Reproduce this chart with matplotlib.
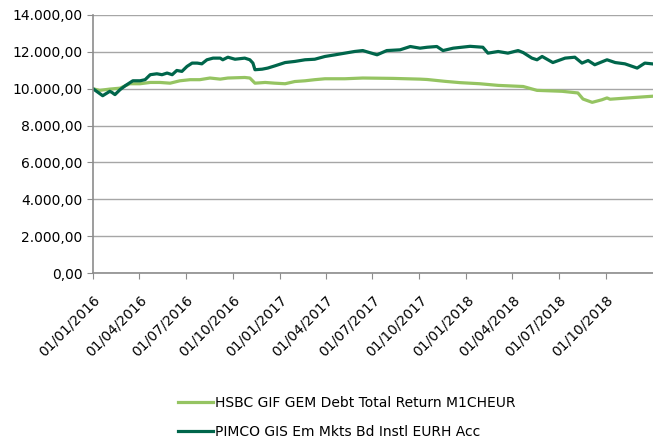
import pandas as pd
import matplotlib
matplotlib.use("Agg")
import matplotlib.pyplot as plt
import matplotlib.dates as mdates
from matplotlib.ticker import FuncFormatter, MultipleLocator

# values (growth of 10.000)
hsbc_dates = ['2016-01-01', '2016-01-14', '2016-02-03', '2016-02-23', '2016-03-13',
              '2016-04-02', '2016-04-22', '2016-05-11', '2016-05-31', '2016-06-19',
              '2016-07-09', '2016-07-28', '2016-08-17', '2016-09-06', '2016-09-21',
              '2016-10-24', '2016-11-03', '2016-11-13', '2016-12-03', '2016-12-22',
              '2017-01-11', '2017-01-30', '2017-02-19', '2017-03-10', '2017-03-30',
              '2017-05-08', '2017-06-12', '2017-08-10', '2017-10-02', '2017-10-16',
              '2017-11-20', '2017-12-19', '2018-01-27', '2018-03-04', '2018-04-22',
              '2018-05-19', '2018-07-07', '2018-08-07', '2018-08-17', '2018-09-04',
              '2018-09-23', '2018-10-03', '2018-10-09', '2018-11-13', '2018-12-30']
hsbc_values = [10000, 9910, 9980, 10030, 10270,
               10270, 10340, 10340, 10300, 10430,
               10490, 10490, 10580, 10520, 10580,
               10610, 10580, 10300, 10340, 10300,
               10270, 10390, 10430, 10490, 10540,
               10540, 10580, 10560, 10520, 10500,
               10400, 10330, 10270, 10180, 10120,
               9910, 9860, 9770, 9440, 9260,
               9400, 9500, 9430, 9500, 9590]

pimco_dates = ['2016-01-01', '2016-01-20', '2016-02-03', '2016-02-07', '2016-02-13',
               '2016-02-23', '2016-03-04', '2016-03-19', '2016-04-02', '2016-04-12',
               '2016-04-22', '2016-05-05', '2016-05-15', '2016-05-25', '2016-06-04',
               '2016-06-13', '2016-06-23', '2016-07-03', '2016-07-13', '2016-07-23',
               '2016-08-01', '2016-08-11', '2016-08-23', '2016-09-06', '2016-09-11',
               '2016-09-21', '2016-10-05', '2016-10-24', '2016-11-03', '2016-11-09',
               '2016-11-13', '2016-11-27', '2016-12-08', '2016-12-22', '2017-01-11',
               '2017-01-30', '2017-02-19', '2017-03-10', '2017-03-30', '2017-04-19',
               '2017-05-08', '2017-05-27', '2017-06-12', '2017-07-10', '2017-07-29',
               '2017-08-24', '2017-09-13', '2017-10-02', '2017-10-16', '2017-11-04',
               '2017-11-16', '2017-12-06', '2018-01-08', '2018-02-02', '2018-02-12',
               '2018-03-04', '2018-03-23', '2018-04-12', '2018-04-22', '2018-05-09',
               '2018-05-19', '2018-05-29', '2018-06-19', '2018-07-13', '2018-08-01',
               '2018-08-15', '2018-08-27', '2018-09-09', '2018-10-03', '2018-10-19',
               '2018-11-07', '2018-12-01', '2018-12-16', '2018-12-30']
pimco_values = [10000, 9620, 9860, 9800, 9680,
                9950, 10160, 10430, 10430, 10490,
                10760, 10810, 10760, 10850, 10760,
                10990, 10940, 11210, 11390, 11390,
                11350, 11570, 11660, 11660, 11570,
                11710, 11600, 11660, 11570, 11390,
                11030, 11060, 11120, 11240, 11420,
                11480, 11570, 11600, 11750, 11840,
                11930, 12020, 12070, 11840, 12070,
                12110, 12290, 12200, 12250, 12290,
                12070, 12200, 12300, 12250, 11930,
                12020, 11930, 12070, 11960, 11660,
                11570, 11750, 11420, 11660, 11710,
                11390, 11530, 11300, 11570, 11420,
                11350, 11120, 11390, 11350]

labels = ['HSBC GIF GEM Debt Total Return M1CHEUR', 'PIMCO GIS Em Mkts Bd Instl EURH Acc']
colors = ['#95c462', '#00664b']

plt.rcParams['font.family'] = ['DejaVu Sans']
fig = plt.figure(figsize=(6.53, 4.45), dpi=100)
ax = fig.add_axes([0.1424, 0.3865, 0.8576, 0.5798])

ax.plot(pd.to_datetime(hsbc_dates), hsbc_values, color=colors[0], lw=2.3, label=labels[0])
ax.plot(pd.to_datetime(pimco_dates), pimco_values, color=colors[1], lw=2.3, label=labels[1])

ax.set_ylim(0, 14000)
ax.set_xlim(pd.Timestamp('2016-01-01'), pd.Timestamp('2019-01-01'))
ax.yaxis.set_major_locator(MultipleLocator(2000))
ax.yaxis.set_major_formatter(FuncFormatter(
    lambda v, p: f'{v:,.2f}'.replace(',', 'X').replace('.', ',').replace('X', '.')))
ax.xaxis.set_major_locator(mdates.MonthLocator(bymonth=[1, 4, 7, 10]))
ax.xaxis.set_major_formatter(mdates.DateFormatter('%d/%m/%Y'))
# last tick 01/01/2019 is not labelled in the reference
ticks = [t for t in ax.get_xticks() if t < mdates.date2num(pd.Timestamp('2018-12-31'))]
ax.set_xticks(ticks)

ax.grid(axis='y', color='#a6a6a6', lw=1)
ax.set_axisbelow(True)
for s in ['top', 'right']:
    ax.spines[s].set_visible(False)
for s in ['left', 'bottom']:
    ax.spines[s].set_color('#8c8c8c')
    ax.spines[s].set_linewidth(1.2)
ax.tick_params(axis='both', colors='#8c8c8c', labelcolor='black', labelsize=10, length=4)
ax.tick_params(axis='x', pad=10)
plt.setp(ax.get_xticklabels(), rotation=45, ha='right', rotation_mode='anchor')

fig.legend(loc='center', bbox_to_anchor=(0.531, 0.062), frameon=False, fontsize=10,
           handlelength=2.5, handletextpad=0.1, labelspacing=1.05)

fig.savefig('out.png', dpi=100)
